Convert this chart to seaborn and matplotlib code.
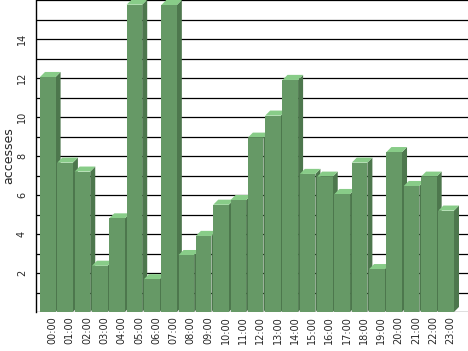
import matplotlib
matplotlib.use("Agg")
import matplotlib.pyplot as plt
import seaborn as sns
import pandas as pd
from matplotlib.patches import Polygon
from matplotlib.transforms import ScaledTranslation

hours = ["00:00", "01:00", "02:00", "03:00", "04:00", "05:00", "06:00", "07:00",
         "08:00", "09:00", "10:00", "11:00", "12:00", "13:00", "14:00", "15:00",
         "16:00", "17:00", "18:00", "19:00", "20:00", "21:00", "22:00", "23:00"]
accesses = [12.05, 7.66, 7.2, 2.37, 4.8, 15.76, 1.68, 15.74,
            2.92, 3.9, 5.5, 5.74, 8.94, 10.07, 11.9, 7.08,
            6.94, 6.05, 7.66, 2.2, 8.2, 6.46, 6.94, 5.2]
ytick_values = [2, 4, 6, 8, 10, 12, 14]

front_col = "#669966"
side_col = "#4d774d"
top_col = "#88cc88"

sns.set_theme(style="white")
plt.rcParams["font.family"] = ["DejaVu Sans"]

df = pd.DataFrame({"hour": hours, "accesses": accesses})

fig = plt.figure(figsize=(4.68, 3.51), dpi=100)
ax = fig.add_axes([36 / 468, 39 / 351, 432 / 468, 312 / 351])

sns.barplot(data=df, x="hour", y="accesses", ax=ax, color=front_col,
            saturation=1, width=0.9, edgecolor="none", linewidth=0, zorder=3)

dx = 0.29   # depth in category units
dy = 0.26   # depth in value units
for p in ax.patches:
    x0 = p.get_x()
    w = p.get_width()
    h = p.get_height()
    x1 = x0 + w
    side = Polygon([(x1, 0), (x1 + dx, dy), (x1 + dx, h + dy), (x1, h)],
                   closed=True, facecolor=side_col, edgecolor="none", zorder=2)
    top = Polygon([(x0, h), (x0 + dx, h + dy), (x1 + dx, h + dy), (x1, h)],
                  closed=True, facecolor=top_col, edgecolor="none", zorder=2.5)
    ax.add_patch(side)
    ax.add_patch(top)

ax.set_xlim(-0.68, 24.26)
ax.set_ylim(0, 16)

# gridlines at every integer
ax.set_yticks(range(0, 17), minor=True)
ax.set_yticks(ytick_values)
ax.set_yticklabels([str(v) for v in ytick_values], rotation=90, va="center",
                   fontsize=7)
ax.yaxis.grid(True, which="both", color="black", linewidth=0.9, zorder=0)
ax.xaxis.grid(False)
ax.set_axisbelow(True)
ax.tick_params(axis="y", which="both", length=0, pad=6.5)
ax.tick_params(axis="x", length=0, pad=3)

for lab in ax.get_xticklabels():
    lab.set_rotation(90)
    lab.set_fontsize(7)
    lab.set_va("top")
    lab.set_ha("center")
    lab.set_transform(lab.get_transform() +
                      ScaledTranslation(4.5 / 100, 0, fig.dpi_scale_trans))

ax.set_xlabel("")
ax.set_ylabel("accesses", fontsize=9, labelpad=1)

for s in ["top", "right", "bottom"]:
    ax.spines[s].set_visible(False)
ax.spines["left"].set_color("black")
ax.spines["left"].set_linewidth(1.0)
ax.set_facecolor("white")
fig.patch.set_facecolor("white")

fig.savefig("out.png", dpi=100)
